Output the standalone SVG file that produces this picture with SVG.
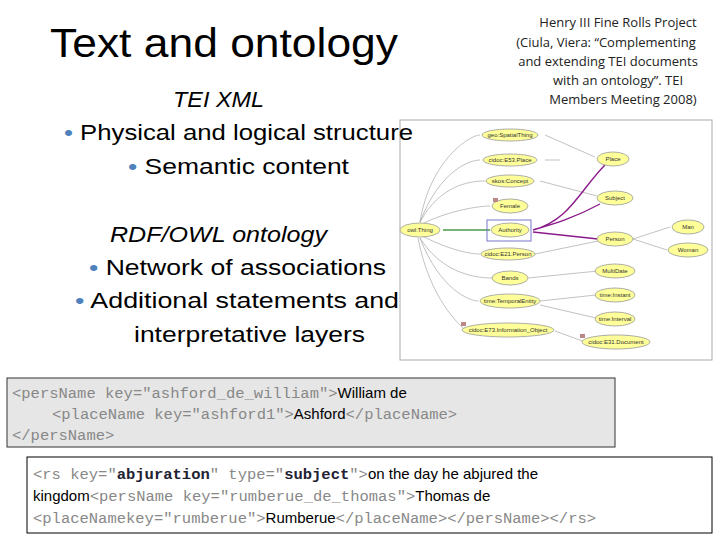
<svg xmlns="http://www.w3.org/2000/svg" width="720" height="540" viewBox="0 0 720 540">
<style>
.b{font-family:"Liberation Sans","Noto Sans",sans-serif;font-size:22px;fill:#000}
.bu{fill:#4f81bd}
.c{font-family:"Liberation Mono",monospace;font-size:15.5px;fill:#888}
.k{font-family:"Liberation Sans Narrow","Liberation Sans",sans-serif;font-size:15px;fill:#000}
.v{fill:#223;font-weight:bold}
.n ellipse{fill:#ffff99;stroke:#999;stroke-width:0.8}
.n text{font-family:"Liberation Sans",sans-serif;font-size:6px;fill:#333;text-anchor:middle}
.e{fill:none;stroke:#999;stroke-width:0.6}
.p{fill:none;stroke:#8b1a8b;stroke-width:1.4}
</style>
<rect width="720" height="540" fill="#fff"/>
<rect x="400" y="120" width="312" height="240" fill="#fff" stroke="#aaa"/>
<g id="edges">
<path class="e" d="M420 222 C430 160 470 135 480 135 M420 222 C440 170 470 160 480 160 M420 222 C440 185 470 181 485 181 M422 224 C450 210 480 206 490 206 M422 236 C450 250 470 254 480 254 M420 238 C440 270 470 278 492 278 M420 238 C440 290 470 301 478 301 M418 238 C430 300 460 325 465 330 M545 135 L595 157 M545 160 L560 160 M540 181 L597 196 M535 254 L598 241 M528 278 L598 271 M540 301 L596 295 M540 305 L596 318 M555 331 L585 342 M633 239 L670 227 M633 239 L667 250"/>
<path d="M443 230 L490 230" stroke="#4a9a4a" stroke-width="1.5" fill="none"/>
<path class="p" d="M605 165 C580 190 570 220 533 230 M600 204 C570 220 550 225 533 230 M598 239 L533 232"/>
</g>
<rect x="487" y="220" width="44" height="21" fill="none" stroke="#7777cc"/>
<g class="n">
<g id="owlThing"><ellipse cx="420" cy="230" rx="20" ry="7"/><text x="420" y="232">owl:Thing</text></g>
<g id="spatial"><ellipse cx="510" cy="135" rx="28" ry="6"/><text x="510" y="137">geo:SpatialThing</text></g>
<g id="e53"><ellipse cx="510" cy="160" rx="27" ry="6"/><text x="510" y="162">cidoc:E53.Place</text></g>
<g id="skos"><ellipse cx="510" cy="181" rx="24" ry="6"/><text x="510" y="183">skos:Concept</text></g>
<g id="female"><ellipse cx="510" cy="206" rx="18" ry="7"/><text x="510" y="208">Female</text><rect x="493" y="198" width="5" height="4" fill="#b88"/></g>
<g id="authority"><ellipse cx="510" cy="230" rx="19" ry="7"/><text x="510" y="232">Authority</text></g>
<g id="e21"><ellipse cx="508" cy="254" rx="27" ry="6"/><text x="508" y="256">cidoc:E21.Person</text></g>
<g id="bands"><ellipse cx="510" cy="278" rx="18" ry="7"/><text x="510" y="280">Bands</text></g>
<g id="temporal"><ellipse cx="510" cy="301" rx="30" ry="7"/><text x="510" y="303">time:TemporalEntity</text></g>
<g id="e73"><ellipse cx="508" cy="330" rx="46" ry="7"/><text x="508" y="332">cidoc:E73.Information_Object</text><rect x="461" y="322" width="5" height="4" fill="#b88"/></g>
<g id="e31"><ellipse cx="616" cy="342" rx="34" ry="7"/><text x="616" y="344">cidoc:E31.Document</text><rect x="580" y="334" width="5" height="4" fill="#b88"/></g>
<g id="place"><ellipse cx="613" cy="159" rx="16" ry="7"/><text x="613" y="161">Place</text></g>
<g id="subject"><ellipse cx="615" cy="198" rx="18" ry="7"/><text x="615" y="200">Subject</text></g>
<g id="person"><ellipse cx="615" cy="239" rx="18" ry="7"/><text x="615" y="241">Person</text></g>
<g id="man"><ellipse cx="688" cy="227" rx="16" ry="7"/><text x="688" y="229">Man</text></g>
<g id="woman"><ellipse cx="688" cy="250" rx="20" ry="7"/><text x="688" y="252">Woman</text></g>
<g id="multidate"><ellipse cx="615" cy="271" rx="20" ry="7"/><text x="615" y="273">MultiDate</text></g>
<g id="instant"><ellipse cx="615" cy="295" rx="20" ry="7"/><text x="615" y="297">time:Instant</text></g>
<g id="interval"><ellipse cx="615" cy="319" rx="20" ry="7"/><text x="615" y="321">time:Interval</text></g>
</g>
<text x="50" y="57" font-family="Liberation Sans,sans-serif" font-size="40" textLength="348" lengthAdjust="spacingAndGlyphs">Text and ontology</text>
<g font-family="Open Sans,Noto Sans,sans-serif" font-size="13" text-anchor="middle" fill="#222">
<text x="618" y="27">Henry III Fine Rolls Project</text>
<text x="606" y="47">(Ciula, Viera: “Complementing</text>
<text x="608" y="66">and extending TEI documents</text>
<text x="618" y="85">with an ontology”. TEI</text>
<text x="623" y="104">Members Meeting 2008)</text>
</g>
<text class="b" x="173" y="107" font-style="italic" textLength="91" lengthAdjust="spacingAndGlyphs">TEI XML</text>
<text class="b" x="64" y="140" textLength="349" lengthAdjust="spacingAndGlyphs"><tspan class="bu">•</tspan> Physical and logical structure</text>
<text class="b" x="128" y="174" textLength="221" lengthAdjust="spacingAndGlyphs"><tspan class="bu">•</tspan> Semantic content</text>
<text class="b" x="110" y="242" font-style="italic" textLength="217" lengthAdjust="spacingAndGlyphs">RDF/OWL ontology</text>
<text class="b" x="89" y="275" textLength="297" lengthAdjust="spacingAndGlyphs"><tspan class="bu">•</tspan> Network of associations</text>
<text class="b" x="75" y="308" textLength="324" lengthAdjust="spacingAndGlyphs"><tspan class="bu">•</tspan> Additional statements and</text>
<text class="b" x="134" y="342" textLength="231" lengthAdjust="spacingAndGlyphs">interpretative layers</text>
<rect x="7" y="378" width="608" height="69" fill="#e6e6e6" stroke="#333"/>
<text class="c" x="12" y="398">&lt;persName key="ashford_de_william"&gt;<tspan class="k">William de</tspan></text>
<text class="c" x="52" y="419">&lt;placeName key="ashford1"&gt;<tspan class="k">Ashford</tspan>&lt;/placeName&gt;</text>
<text class="c" x="12" y="440">&lt;/persName&gt;</text>
<rect x="27" y="457" width="685" height="76" fill="#fff" stroke="#000"/>
<text class="c" x="33" y="479">&lt;rs key="<tspan class="v">abjuration</tspan>" type="<tspan class="v">subject</tspan>"&gt;<tspan class="k">on the day he abjured the</tspan></text>
<text class="c" x="33" y="501"><tspan class="k">kingdom</tspan>&lt;persName key="rumberue_de_thomas"&gt;<tspan class="k">Thomas de</tspan></text>
<text class="c" x="33" y="523">&lt;placeNamekey="rumberue"&gt;<tspan class="k">Rumberue</tspan>&lt;/placeName&gt;&lt;/persName&gt;&lt;/rs&gt;</text>
</svg>
